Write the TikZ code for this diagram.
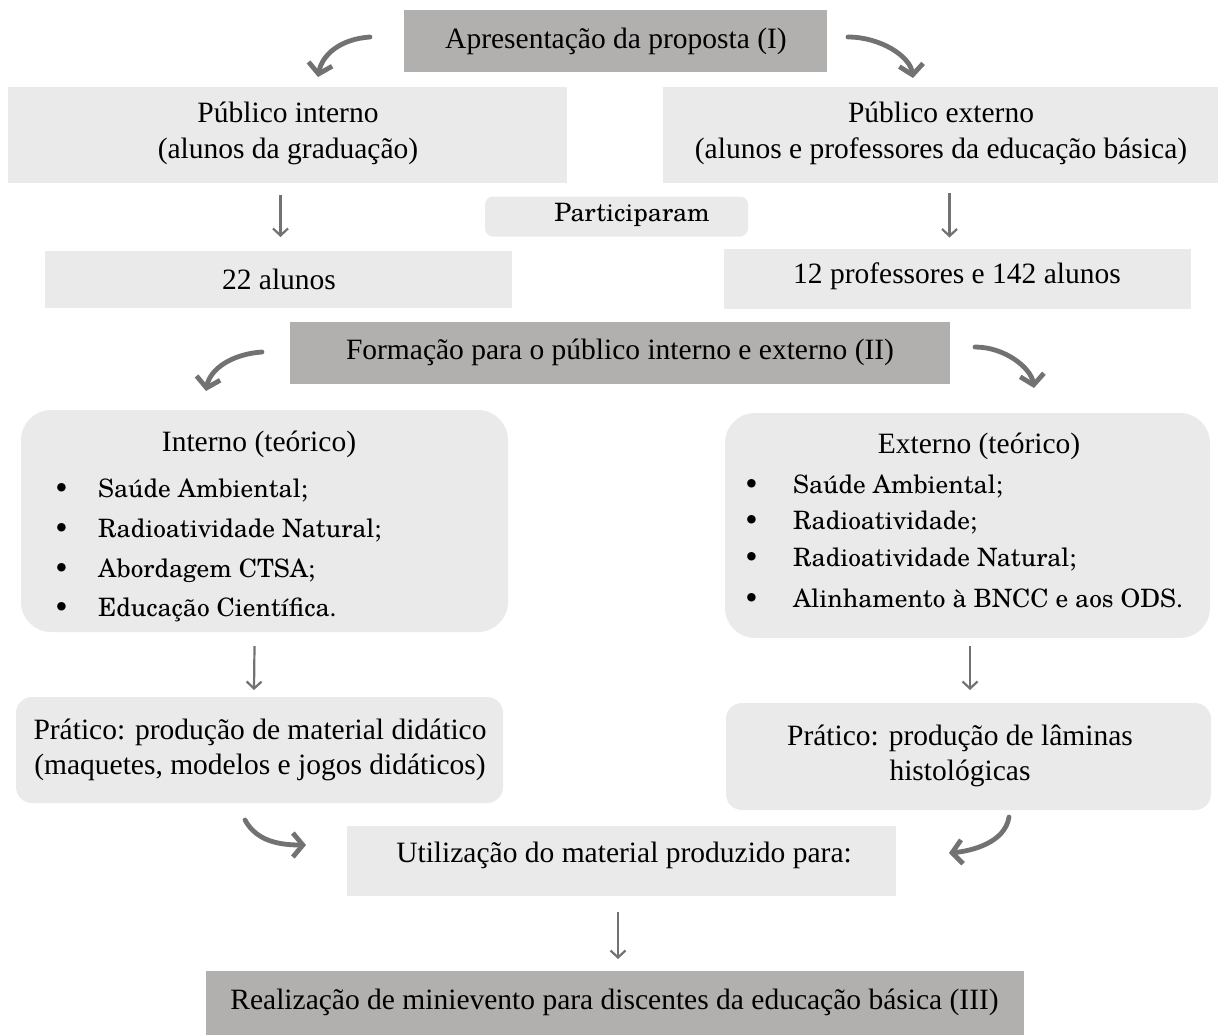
\documentclass[tikz,border=0pt]{standalone}
\usepackage{fontspec}
\setmainfont{Liberation Serif}
\newfontfamily\cent{TeX Gyre Schola}
\usetikzlibrary{arrows.meta,calc}
\definecolor{lightg}{HTML}{EAEAEA}
\definecolor{darkg}{HTML}{B2AFAF}
\definecolor{arrg}{HTML}{727272}
\tikzset{
  lbox/.style={fill=lightg, draw=none, inner sep=0pt, outer sep=0pt},
  dbox/.style={fill=darkg, draw=none, inner sep=0pt, outer sep=0pt},
  ttext/.style={font=\fontsize{29.5}{35.5}\selectfont, align=center, inner sep=0pt},
  ctext/.style={font=\cent\fontsize{25.3}{30}\selectfont, inner sep=0pt},
  curvarr/.style={draw=arrg, line width=4.8pt, line cap=round, -{Straight Barb[length=10pt,width=24pt]}},
  downarr/.style={draw=arrg, line width=2.2pt, -{Straight Barb[length=7pt,width=15pt]}},
}
\begin{document}
\begin{tikzpicture}[x=1pt,y=-1pt]
\useasboundingbox (0,0) rectangle (1218,1034);
% boxes
\node[dbox, minimum width=423, minimum height=62] (top) at (615.5,41) {};
\node[lbox, minimum width=559, minimum height=96] (pint) at (287.5,135) {};
\node[lbox, minimum width=557, minimum height=96] (pext) at (941.5,135) {};
\node[lbox, rounded corners=8pt, minimum width=263, minimum height=40] (part) at (616.5,216.5) {};
\node[lbox, minimum width=467, minimum height=57] (a22) at (278.5,279.5) {};
\node[lbox, minimum width=467, minimum height=60] (a154) at (957,278.5) {};
\node[dbox, minimum width=660, minimum height=62] (form) at (620,353) {};
\node[lbox, rounded corners=30pt, minimum width=487, minimum height=222] (tint) at (264.5,521) {};
\node[lbox, rounded corners=30pt, minimum width=485, minimum height=225] (text) at (967.5,525.5) {};
\node[lbox, rounded corners=16pt, minimum width=487, minimum height=106] (pl) at (259.5,750) {};
\node[lbox, rounded corners=16pt, minimum width=485, minimum height=107] (pr) at (968.5,756.5) {};
\node[lbox, minimum width=549, minimum height=70] (util) at (621.5,861) {};
\node[dbox, minimum width=818, minimum height=66] (bot) at (615,1004) {};
% texts
\node[ttext] (ttop) at (616,41) {Apresentação da proposta (I)};
\node[ttext] (tpint) at (288,133.5) {Público interno\\(alunos da graduação)};
\node[ttext] (tpext) at (941,133.5) {Público externo\\(alunos e professores da educação básica)};
\node[ctext] (tpart) at (632,215) {Participaram};
\node[ttext] (ta22) at (279,279) {22 alunos};
\node[ttext] (ta154) at (957,276) {12 professores e 142 alunos};
\node[ttext] (tform) at (620,352) {Formação para o público interno e externo (II)};
\node[ttext] (tinth) at (259,444) {Interno (teórico)};
\node[ctext, anchor=base west] (li1) at (98,497) {\llap{•\hspace{29pt}}Saúde Ambiental;};
\node[ctext, anchor=base west] (li2) at (98,537) {\llap{•\hspace{29pt}}Radioatividade Natural;};
\node[ctext, anchor=base west] (li3) at (98,577) {\llap{•\hspace{29pt}}Abordagem CTSA;};
\node[ctext, anchor=base west] (li4) at (98,616) {\llap{•\hspace{29pt}}Educação Científica.};
\node[ttext] (texth) at (979,446) {Externo (teórico)};
\node[ctext, anchor=base west] (le1) at (793,493) {\llap{•\hspace{34pt}}Saúde Ambiental;};
\node[ctext, anchor=base west] (le2) at (793,529) {\llap{•\hspace{34pt}}Radioatividade;};
\node[ctext, anchor=base west] (le3) at (793,566) {\llap{•\hspace{34pt}}Radioatividade Natural;};
\node[ctext, anchor=base west] (le4) at (793,607) {\llap{•\hspace{34pt}}Alinhamento à BNCC e aos ODS.};
\node[ttext] (tpl) at (260,750) {Prático: produção de material didático\\(maquetes, modelos e jogos didáticos)};
\node[ttext] (tpr) at (960,756) {Prático: produção de lâminas\\histológicas};
\node[ttext] (tutil) at (624,855) {Utilização do material produzido para:};
\node[ttext] (tbot) at (614.5,1002) {Realização de minievento para discentes da educação básica (III)};
% connectors
\draw[curvarr] ($(top.west)+(-34,-4)$) .. controls +(-30,2) and +(4,-22) .. ($(pint.north)+(30.5,-10)$);
\draw[curvarr] ($(top.east)+(21,-4)$) .. controls +(32,0) and +(-3,-22) .. ($(pext.north)+(-28.5,-9)$);
\draw[downarr] ($(pint.south)+(-7,12)$) -- ($(a22.north)+(2,-14)$);
\draw[downarr] ($(pext.south)+(8,10)$) -- ($(a154.north)+(-7.5,-11)$);
\draw[curvarr] ($(form.west)+(-28,-1)$) .. controls +(-30,2) and +(4,-22) .. ($(tint.north)+(-58.5,-19)$);
\draw[curvarr] ($(form.east)+(25,-6)$) .. controls +(30,0) and +(-3,-20) .. ($(text.north)+(66.5,-25)$);
\draw[downarr] ($(tint.south)+(-10,14)$) -- ($(pl.north)+(-5.5,-7)$);
\draw[downarr] ($(text.south)+(2.5,8)$) -- ($(pr.north)+(1.5,-13)$);
\draw[curvarr] ($(pl.south)+(-14.5,17)$) .. controls +(12,22) and +(-25,0) .. ($(util.west)+(-41,-16)$);
\draw[curvarr] ($(pr.south)+(40.5,7)$) .. controls +(-4,26) and +(22,-2) .. ($(util.east)+(53,-8)$);
\draw[downarr] ($(util.south)+(-3.5,16)$) -- ($(bot.north)+(3,-12)$);
\end{tikzpicture}
\end{document}
